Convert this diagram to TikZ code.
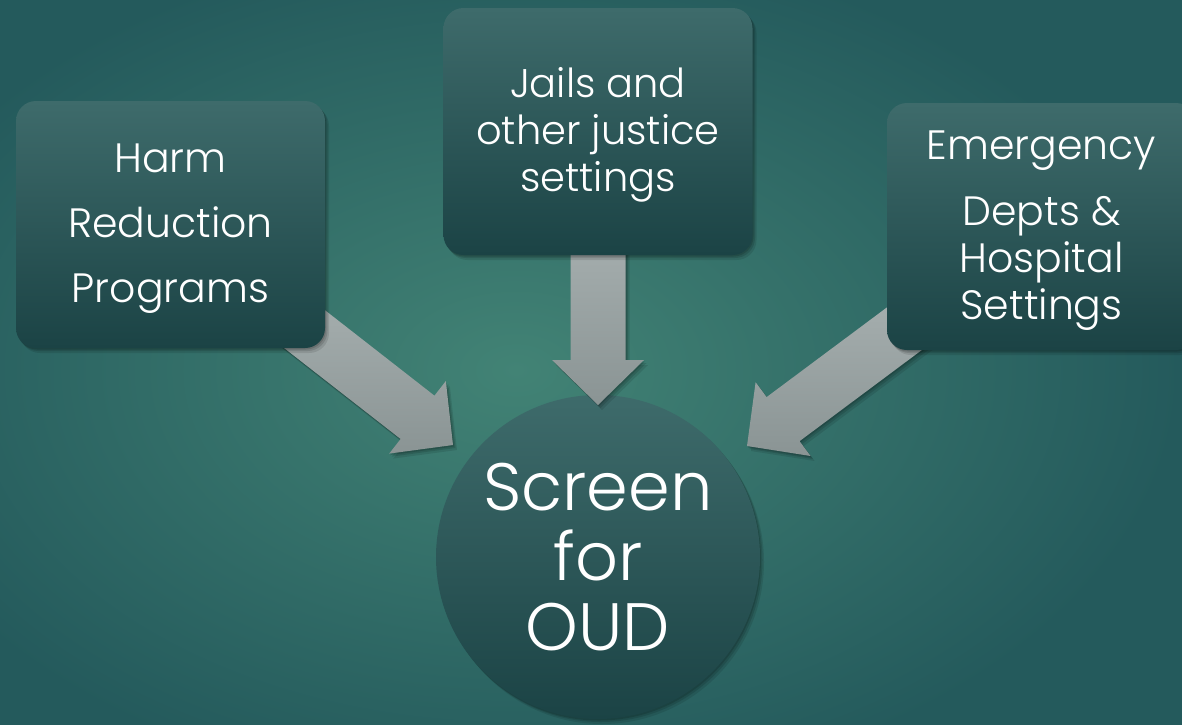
\documentclass[tikz,border=0pt]{standalone}
\usepackage{fontspec}
\setmainfont{Poppins}[UprightFont=* Light]
\usetikzlibrary{calc}
\definecolor{bgin}{HTML}{428375}
\definecolor{bgout}{HTML}{245A5C}
\definecolor{boxtop}{HTML}{3E6B6B}
\definecolor{boxbot}{HTML}{1B4345}
\definecolor{arrtop}{HTML}{B6BEBE}
\definecolor{arrbot}{HTML}{8A9494}
\pgfdeclarelayer{bg}
\pgfdeclarelayer{circ}
\pgfdeclarelayer{arr}
\pgfsetlayers{bg,circ,arr,main}
\newcommand\fatarrowdraw[2]{% #1 tail, #2 tip
  \coordinate (fa-h) at ($(#2)!45pt!(#1)$);
  \path[fatarrow] ($(#1)!27.5pt!90:(#2)$) -- ($(fa-h)!27.5pt!90:(#2)$) -- ($(fa-h)!46pt!90:(#2)$) -- (#2)
     -- ($(fa-h)!46pt!-90:(#2)$) -- ($(fa-h)!27.5pt!-90:(#2)$) -- ($(#1)!27.5pt!-90:(#2)$) -- cycle;
}
\begin{document}
\begin{tikzpicture}[x=1pt,y=-1pt,
  softshadow/.style={
    preaction={fill=black,fill opacity=.10,transform canvas={xshift=4pt,yshift=-5pt}},
    preaction={fill=black,fill opacity=.12,transform canvas={xshift=2.5pt,yshift=-3pt}},
    preaction={fill=black,fill opacity=.14,transform canvas={xshift=1pt,yshift=-1.5pt}}},
  box/.style={rounded corners=20pt, minimum width=309pt, minimum height=247pt, inner sep=0pt,
    top color=boxtop, bottom color=boxbot, text=white, align=center, softshadow},
  fatarrow/.style={top color=arrtop, bottom color=arrbot, draw=none, softshadow},
  bigcirc/.style={circle, minimum size=324pt, inner sep=0pt, top color=boxtop, bottom color=boxbot,
    text=white, align=center, softshadow}]
\useasboundingbox (0,0) rectangle (1182,724);
\begin{pgfonlayer}{bg}
  \shade[inner color=bgin, outer color=bgout] (-150,-60) rectangle (1182,800);
\end{pgfonlayer}
% boxes
\node[box, font=\fontsize{41}{65}\selectfont] (harm) at (170.5,224.5) {\rule{0pt}{36pt}Harm\\Reduction\\Programs};
\node[box, font=\fontsize{40}{47}\selectfont] (jails) at (598,131.5) {\rule{0pt}{36pt}Jails and\\other justice\\settings};
\node[box, font=\fontsize{41}{47}\selectfont] (emerg) at (1041.5,226.5) {\rule{0pt}{36pt}Emergency\\[19pt]Depts \&\\Hospital\\Settings};
% circle
\begin{pgfonlayer}{circ}
  \node[bigcirc, font=\fontsize{67}{70}\selectfont] (oud) at (598,557) {Screen\\for\\OUD};
\end{pgfonlayer}
% arrows
\coordinate (t1) at (453,445);
\coordinate (t2) at (598,405);
\coordinate (t3) at (747,446);
\begin{pgfonlayer}{arr}
  \fatarrowdraw{harm.center}{t1}
  \fatarrowdraw{jails.center}{t2}
  \fatarrowdraw{emerg.center}{t3}
\end{pgfonlayer}
\end{tikzpicture}
\end{document}
